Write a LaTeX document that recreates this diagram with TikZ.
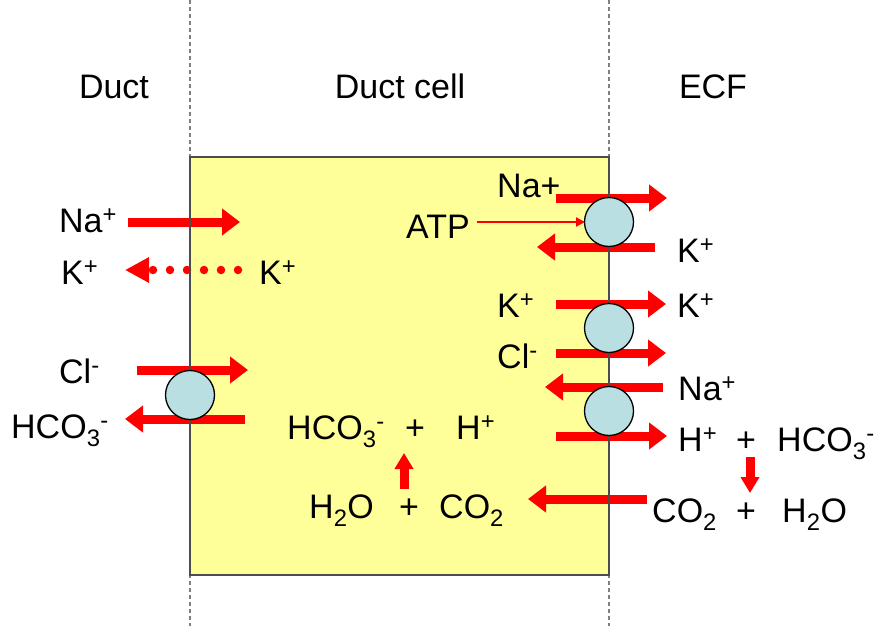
\documentclass[tikz,border=0pt]{standalone}
\usepackage{fontspec}
\setmainfont{Liberation Sans}
\usetikzlibrary{arrows.meta}
\definecolor{cellyellow}{RGB}{255,255,153}
\definecolor{pumpblue}{RGB}{185,223,227}
\definecolor{ionred}{RGB}{255,0,0}
\begin{document}
\begin{tikzpicture}[x=1pt,y=-1pt,
  lbl/.style={inner sep=0pt,font=\fontsize{34}{40}\selectfont},
  flux/.style={draw=ionred,line width=9pt,-{Triangle[width=26pt,length=18pt]}},
  vflux/.style={draw=ionred,line width=9pt,-{Triangle[width=18pt,length=16pt]}},
  pump/.style={circle,draw=black,line width=1.3pt,fill=pumpblue,minimum size=49pt,inner sep=0pt},
  membrane/.style={draw=gray,line width=1.5pt,dash pattern=on 4pt off 3pt}]
\useasboundingbox (0,0) rectangle (886,626);
% cell
\fill[cellyellow] (190,157) rectangle (609,575);
% headings
\node[lbl,anchor=base] (hduct) at (114,98) {Duct};
\node[lbl,anchor=base] (hcell) at (400,98) {Duct cell};
\node[lbl,anchor=base] (hecf) at (713,98) {ECF};
% left side labels
\node[lbl,anchor=base west] (naL) at (59,232) {Na\textsuperscript{+}};
\node[lbl,anchor=base west] (kL) at (61,284) {K\textsuperscript{+}};
\node[lbl,anchor=base west] (kLc) at (259,284) {K\textsuperscript{+}};
\node[lbl,anchor=base west] (clL) at (59,383) {Cl\textsuperscript{-}};
\node[lbl,anchor=base west] (hco3L) at (11,438) {HCO\textsubscript{3}\textsuperscript{-}};
% left coordinates
\coordinate (a1s) at (128,222); \coordinate (a1e) at (240,222);
\coordinate (k1s) at (238,270); \coordinate (k1e) at (125,270);
\coordinate (a2s) at (137,370); \coordinate (a2e) at (248,370);
\coordinate (a3s) at (245,419); \coordinate (a3e) at (125,419);
\draw[flux] (a1s) -- (a1e);
\draw[draw=ionred,line width=8.5pt,line cap=round,dash pattern=on 0pt off 17pt,
      -{Triangle[width=24pt,length=24pt,line cap=butt]}] (k1s) -- (k1e);
\draw[flux] (a2s) -- (a2e);
\draw[flux] (a3s) -- (a3e);
% right side labels
\node[lbl,anchor=base west] (naR1) at (497,197) {Na+};
\node[lbl,anchor=base west] (atp) at (406,238) {ATP};
\node[lbl,anchor=base west] (kR1) at (677,262) {K\textsuperscript{+}};
\node[lbl,anchor=base west] (kR2in) at (497,317) {K\textsuperscript{+}};
\node[lbl,anchor=base west] (kR2out) at (677,317) {K\textsuperscript{+}};
\node[lbl,anchor=base west] (clR) at (497,368) {Cl\textsuperscript{-}};
\node[lbl,anchor=base west] (naR2) at (678,400) {Na\textsuperscript{+}};
\node[lbl,anchor=base west] (hR) at (678,451) {H\textsuperscript{+}};
\node[lbl,anchor=base] (plusR1) at (746,451) {+};
\node[lbl,anchor=base west] (hco3R) at (777,451) {HCO\textsubscript{3}\textsuperscript{-}};
\node[lbl,anchor=base west] (co2R) at (652,522) {CO\textsubscript{2}};
\node[lbl,anchor=base] (plusR2) at (746,522) {+};
\node[lbl,anchor=base west] (h2oR) at (782,522) {H\textsubscript{2}O};
% middle labels
\node[lbl,anchor=base west] (hco3M) at (287,439) {HCO\textsubscript{3}\textsuperscript{-}};
\node[lbl,anchor=base] (plusM1) at (415,439) {+};
\node[lbl,anchor=base west] (hM) at (456,439) {H\textsuperscript{+}};
\node[lbl,anchor=base west] (h2oM) at (309,518) {H\textsubscript{2}O};
\node[lbl,anchor=base] (plusM2) at (409,518) {+};
\node[lbl,anchor=base west] (co2M) at (439,518) {CO\textsubscript{2}};
% right coordinates
\coordinate (b1s) at (556,198); \coordinate (b1e) at (667,198);
\coordinate (b2s) at (655,247); \coordinate (b2e) at (537,247);
\coordinate (b3s) at (556,304); \coordinate (b3e) at (666,304);
\coordinate (b4s) at (556,353); \coordinate (b4e) at (666,353);
\coordinate (b5s) at (663,387); \coordinate (b5e) at (545,387);
\coordinate (b6s) at (556,436); \coordinate (b6e) at (667,436);
\coordinate (b7s) at (647,499); \coordinate (b7e) at (528,499);
\coordinate (atps) at (477,222); \coordinate (atpe) at (585,222);
\coordinate (upS) at (404,489); \coordinate (upE) at (404,453);
\coordinate (dnS) at (750,457); \coordinate (dnE) at (750,493);
\foreach \s/\e in {b1s/b1e,b2s/b2e,b3s/b3e,b4s/b4e,b5s/b5e,b6s/b6e,b7s/b7e}
  \draw[flux] (\s) -- (\e);
\draw[draw=ionred,line width=2pt,-{Triangle[width=9pt,length=9pt]}] (atps) -- (atpe);
\draw[vflux] (upS) -- (upE);
\draw[vflux] (dnS) -- (dnE);
% membranes
\draw[membrane] (190,0) -- (190,626);
\draw[membrane] (609,0) -- (609,626);
\draw[draw=black!70,line width=2pt] (190,157) rectangle (609,575);
% pumps
\node[pump] (p1) at (190,395) {};
\node[pump] (p2) at (609,222) {};
\node[pump] (p3) at (609,328) {};
\node[pump] (p4) at (609,411) {};
\end{tikzpicture}
\end{document}
